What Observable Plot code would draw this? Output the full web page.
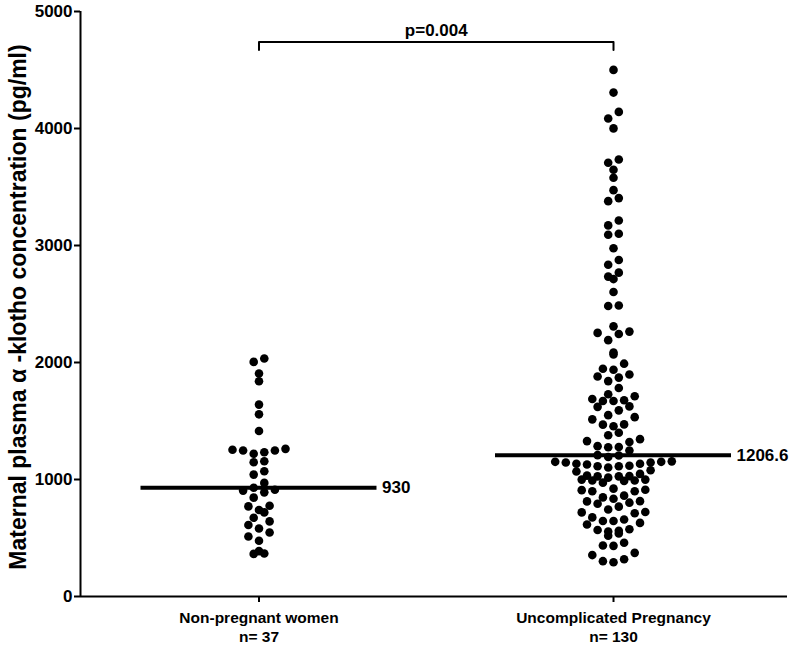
<!DOCTYPE html>
<html>
<head>
<meta charset="utf-8">
<script src="https://cdn.jsdelivr.net/npm/d3@7"></script>
<script src="https://cdn.jsdelivr.net/npm/@observablehq/plot@0.6"></script>
<style>
  body { margin: 0; background: #fff; }
  #chart svg { font-family: "Liberation Sans", Arial, sans-serif; font-weight: bold; }
</style>
</head>
<body>
<div id="chart"></div>
<script>
// ---- data ----
const groups = ["Non-pregnant women", "Uncomplicated Pregnancy"];
const groupN = ["n= 37", "n= 130"];
const medians = [930, 1206.6];
const medianLabels = ["930", "1206.6"];
const yTicks = [0, 1000, 2000, 3000, 4000, 5000];
const yLabel = "Maternal plasma \u03b1 -klotho concentration (pg/ml)";
const pLabel = "p=0.004";
const bracketX = [0, 0, 1, 1];
const bracketY = [4670, 4740, 4740, 4670];

const nonPregnant = [
  2034, 2005, 1906, 1840, 1640, 1557, 1415,
  1262, 1248, 1233, 1220, 1248, 1254,
  1156, 1148, 1042, 1070, 971,
  930, 905, 890, 913, 845,
  776, 739, 719, 770, 673, 642, 611, 581, 547, 513, 476,
  388, 364, 367
];

const pregnancy = [
  4501, 4307, 4142, 4085, 4001, 3735, 3707, 3648, 3579, 3473,
  3405, 3379, 3214, 3172, 3100, 3092, 2976, 2876, 2836, 2768,
  2713, 2734, 2603, 2483, 2487, 2309, 2253, 2244, 2264, 2191,
  2086, 2069, 1990, 1938, 1947, 1898, 1871, 1880, 1841, 1782,
  1728, 1688, 1671, 1671, 1677, 1711, 1625, 1621, 1591, 1550,
  1514, 1533, 1471, 1455, 1469, 1400, 1378, 1328, 1321, 1345,
  1278, 1285, 1276, 1248, 1205, 1192, 1208,
  1151, 1145, 1134, 1128, 1113, 1102, 1113, 1117, 1134, 1145, 1151, 1155,
  1079, 1048, 1068, 999, 991, 988, 1033, 1016, 1027, 1029,
  1027, 973, 991, 999, 899, 922, 909, 913, 899, 862,
  847, 793, 813, 815, 836, 802, 768, 744, 712, 722,
  719, 658, 645, 629, 645, 676, 616, 575, 562, 519,
  538, 555, 568, 436, 433, 459, 373, 319, 293, 302,
  354
];

// ---- layout settings ----
const W = 800, H = 656;
const mL = 80, mR = 13, mT = 11, mB = 60;
const xDomain = [-0.5035, 1.4908];
const pxPerUnit = (W - mL - mR) / (xDomain[1] - xDomain[0]);
const halfStep = 5.3 / pxPerUnit;     // half of the horizontal dot spacing
const binSize = 90, binOrigin = 1005; // row height of the scatter (data units)
const medHalf = 118 / pxPerUnit;

// GraphPad-like column scatter: bin values into rows, spread each row centred
function swarm(values, gi) {
  const bins = d3.group(values, v => Math.floor((v - binOrigin) / binSize));
  const out = [];
  for (const [, vs] of bins) {
    const sorted = vs.slice().sort((a, b) => a - b);
    const n = sorted.length;
    const slots = [];
    if (n % 2) {
      slots.push(0);
      for (let k = 2; slots.length < n; k += 2) { slots.push(-k); if (slots.length < n) slots.push(k); }
    } else {
      for (let k = 1; slots.length < n; k += 2) { slots.push(-k); slots.push(k); }
    }
    sorted.forEach((v, i) => out.push({group: gi, value: v, slot: slots[i]}));
  }
  return out;
}

const dots = [...swarm(nonPregnant, 0), ...swarm(pregnancy, 1)];
const medData = medians.map((m, i) => ({group: i, value: m, label: medianLabels[i]}));
const catData = groups.map((g, i) => ({group: i, text: g + "\n" + groupN[i]}));
const bracket = bracketX.map((x, i) => ({x, y: bracketY[i]}));

const chart = Plot.plot({
  width: W, height: H,
  marginLeft: mL, marginRight: mR, marginTop: mT, marginBottom: mB,
  style: {fontFamily: "'Liberation Sans', Arial, sans-serif", fontWeight: "bold", background: "#fff", color: "#000"},
  x: {domain: xDomain, axis: null},
  y: {domain: [0, 5000], axis: null},
  marks: [
    // axis lines
    Plot.ruleX([xDomain[0]], {y1: 0, y2: 5000, strokeWidth: 2, stroke: "#000"}),
    Plot.ruleY([0], {x1: xDomain[0], x2: xDomain[1], strokeWidth: 2, stroke: "#000"}),
    // y axis ticks + labels
    Plot.axisY({ticks: yTicks, tickSize: 6, tickPadding: 2, strokeWidth: 2, fontSize: 17, fontWeight: "bold", label: null, tickFormat: d => String(d)}),
    // x axis ticks
    Plot.axisX({ticks: [0, 1], tickSize: 6, strokeWidth: 2, tickFormat: () => "", label: null}),
    Plot.text(catData, {x: "group", y: 0, text: "text", lineAnchor: "top", dy: 13, lineHeight: 1.22, fontSize: 15.5, fontWeight: "bold", fill: "#000"}),
    // y label
    Plot.text([yLabel], {frameAnchor: "left", textAnchor: "middle", rotate: -90, dx: -62, dy: 3, fontSize: 23, fontWeight: "bold", fill: "#000"}),
    // dots
    Plot.dot(dots, {x: d => d.group + d.slot * halfStep, y: "value", r: 4.3, fill: "#000", stroke: null}),
    // medians
    Plot.ruleY(medData, {x1: d => d.group - medHalf, x2: d => d.group + medHalf, y: "value", strokeWidth: 4, stroke: "#000"}),
    Plot.text(medData, {x: d => d.group + medHalf, y: "value", text: "label", textAnchor: "start", dx: 5, fontSize: 17, fontWeight: "bold", fill: "#000"}),
    // significance bracket
    Plot.line(bracket, {x: "x", y: "y", strokeWidth: 2, stroke: "#000"}),
    Plot.text([pLabel], {x: [0.5], y: [4740], text: d => d, dy: -11, fontSize: 17, fontWeight: "bold", fill: "#000"})
  ]
});
document.getElementById("chart").appendChild(chart);
</script>
</body>
</html>
